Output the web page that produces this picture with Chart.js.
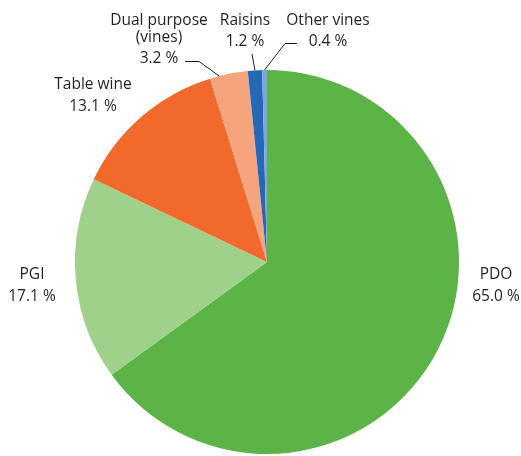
<!DOCTYPE html>
<html>
<head>
<meta charset="utf-8">
<script src="https://cdn.jsdelivr.net/npm/chart.js@4"></script>
<style>
html,body{margin:0;padding:0;background:#fff;overflow:hidden;}
#wrap{position:relative;width:521px;height:456px;}
</style>
</head>
<body>
<div id="wrap"><canvas id="c"></canvas></div>
<script>
const categories = ["PDO", "PGI", "Table wine", "Dual purpose (vines)", "Raisins", "Other vines"];
const labelLines = [["PDO"], ["PGI"], ["Table wine"], ["Dual purpose", "(vines)"], ["Raisins"], ["Other vines"]];
const shares = [65.0, 17.1, 13.1, 3.2, 1.2, 0.4];
const colors = ["#5db446", "#a0d18b", "#f26a2b", "#f5a47d", "#2568b5", "#7aa8dc"];

// label text placement: centre x and middle y of each line
const labelPos = [
  {x: 496, ys: [275, 297]},
  {x: 32, ys: [275, 297]},
  {x: 93, ys: [85, 107]},
  {x: 159, ys: [21, 38, 59]},
  {x: 245, ys: [21, 42]},
  {x: 328, ys: [21, 42]}
];

const FONT = "15.5px 'Open Sans'";

const labelPlugin = {
  id: 'labels',
  afterDatasetsDraw(chart) {
    const ctx = chart.ctx;
    const meta = chart.getDatasetMeta(0);
    ctx.save();
    ctx.font = FONT;
    ctx.fillStyle = "#231f20";
    ctx.textAlign = "center";
    ctx.textBaseline = "middle";
    meta.data.forEach((arc, i) => {
      const lines = labelLines[i].concat([shares[i].toFixed(1) + " %"]);
      const p = labelPos[i];
      lines.forEach((t, k) => ctx.fillText(t, p.x, p.ys[k]));
    });
    // leader lines, ending on the slice edges
    const edge = (i, f) => {
      const a = meta.data[i];
      const ang = a.startAngle + (a.endAngle - a.startAngle) * f;
      return {x: a.x + Math.cos(ang) * a.outerRadius, y: a.y + Math.sin(ang) * a.outerRadius};
    };
    ctx.strokeStyle = "#231f20";
    ctx.lineWidth = 1;
    let e = edge(3, 0.25);
    ctx.beginPath();
    ctx.moveTo(185, 61.5); ctx.lineTo(199, 61.5); ctx.lineTo(e.x, e.y);
    ctx.stroke();
    e = edge(4, 0.5);
    ctx.beginPath();
    ctx.moveTo(252, 54); ctx.lineTo(e.x, e.y);
    ctx.stroke();
    e = edge(5, 0.5);
    ctx.beginPath();
    ctx.moveTo(297, 43.5); ctx.lineTo(285, 43.5); ctx.lineTo(e.x, e.y);
    ctx.stroke();
    ctx.restore();
  }
};

new Chart(document.getElementById('c'), {
  type: 'pie',
  data: {
    labels: categories,
    datasets: [{
      data: shares,
      backgroundColor: colors,
      borderWidth: 0,
      hoverOffset: 0
    }]
  },
  options: {
    responsive: true,
    maintainAspectRatio: false,
    animation: false,
    layout: {padding: {left: 75, right: 62, top: 70, bottom: 2}},
    plugins: {legend: {display: false}, tooltip: {enabled: false}}
  },
  plugins: [labelPlugin]
});
</script>
</body>
</html>
